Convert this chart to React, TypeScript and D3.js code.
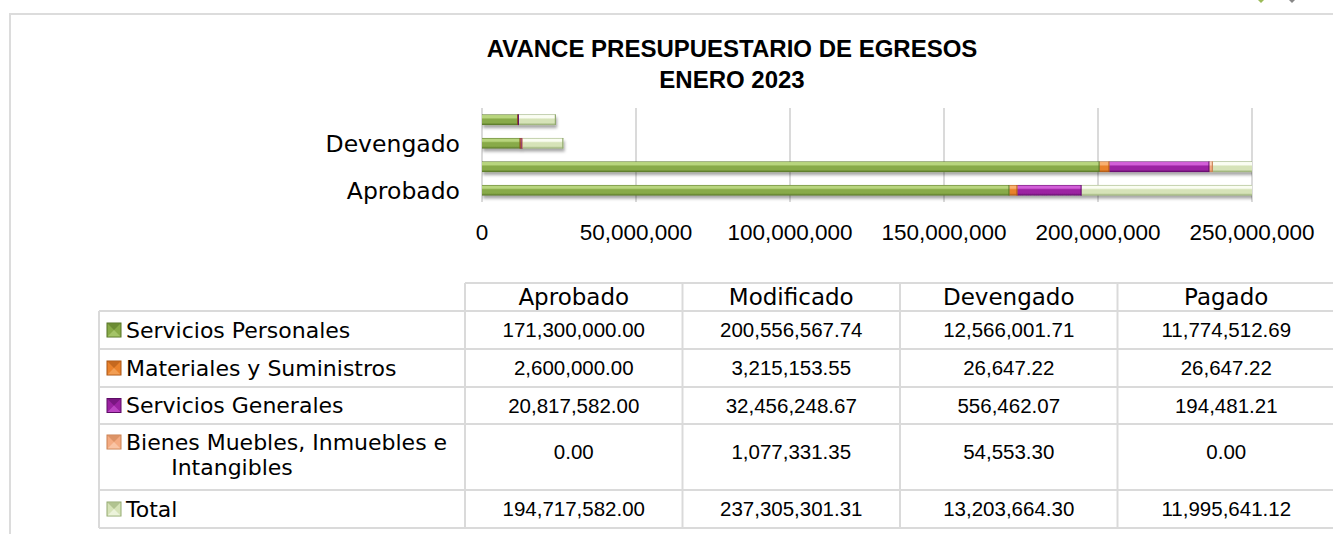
import React from "react";
import * as d3 from "d3";

const categories = ["Aprobado", "Modificado", "Devengado", "Pagado"];
const seriesNames = [
  "Servicios Personales",
  "Materiales y Suministros",
  "Servicios Generales",
  "Bienes Muebles, Inmuebles e Intangibles",
  "Total",
];
const serviciosPersonales = [171300000.0, 200556567.74, 12566001.71, 11774512.69];
const materialesSuministros = [2600000.0, 3215153.55, 26647.22, 26647.22];
const serviciosGenerales = [20817582.0, 32456248.67, 556462.07, 194481.21];
const bienesMuebles = [0.0, 1077331.35, 54553.3, 0.0];
const totalValues = [194717582.0, 237305301.31, 13203664.3, 11995641.12];
const xTickValues = [0, 50000000, 100000000, 150000000, 200000000, 250000000];
const shownAxisLabels = ["Aprobado", "Devengado"];
const titleLines = ["AVANCE PRESUPUESTARIO DE EGRESOS", "ENERO 2023"];

const seriesValues = [
  serviciosPersonales,
  materialesSuministros,
  serviciosGenerales,
  bienesMuebles,
  totalValues,
];

const palette = [
  { base: "#88aa48", light: "#b8d57e", dark: "#557325" },
  { base: "#e9822c", light: "#f9b070", dark: "#a85414" },
  { base: "#9c22a2", light: "#d25ed8", dark: "#5e0c66" },
  { base: "#f4ab82", light: "#fcd5bb", dark: "#c98050" },
  { base: "#d6e3b8", light: "#fafdf2", dark: "#93aa70" },
];

const W = 1333;
const H = 534;
const WORD_FONT = "'DejaVu Sans', sans-serif";
const NUM_FONT = "'Liberation Sans', Arial, sans-serif";

export default function App() {
  const rows = categories.map((c, i) => {
    const r: Record<string, any> = { category: c };
    seriesNames.forEach((s, k) => (r[s] = seriesValues[k][i]));
    return r;
  });
  const stacked = d3.stack<any>().keys(seriesNames)(rows);

  const x = d3.scaleLinear().domain([0, 250000000]).range([482, 1252]);
  const y = d3
    .scaleBand<string>()
    .domain([...categories].reverse())
    .range([108, 202])
    .paddingInner(0.55)
    .paddingOuter(0.275);
  const fmtTick = d3.format(",");
  const fmtVal = d3.format(",.2f");

  // table geometry
  const colX = [465, 682.5, 900, 1117.5, 1335];
  const labelLeft = 99;
  const rowY = [283, 311, 349, 387, 424, 490, 528];
  const gridColor = "#dadada";

  return (
    <svg
      width={W}
      height={H}
      style={{ position: "absolute", left: 0, top: 0, background: "#fff" }}
    >
      <defs>
        {palette.map((p, i) => (
          <linearGradient key={i} id={`g${i}`} x1="0" y1="0" x2="0" y2="1">
            <stop offset="0" stopColor={p.dark} />
            <stop offset="0.1" stopColor={p.light} />
            <stop offset="0.3" stopColor={p.light} />
            <stop offset="0.45" stopColor={p.base} />
            <stop offset="0.78" stopColor={p.base} />
            <stop offset="1" stopColor={p.dark} />
          </linearGradient>
        ))}
        <clipPath id="plotClip">
          <rect x={482} y={100} width={770} height={110} />
        </clipPath>
        <filter id="shadow" x="-5%" y="-50%" width="110%" height="250%">
          <feDropShadow dx="1" dy="3" stdDeviation="1.4" floodColor="#000" floodOpacity="0.35" />
        </filter>
      </defs>

      {/* outer frame */}
      <path d={`M10,${H} L10,14 L${W},14`} fill="none" stroke="#dcdcdc" strokeWidth={2} />
      <path d="M1258,0 l3,3 l3,-3 Z" fill="#9bbb59" />
      <path d="M1289,0 l3,3 l3,-3 Z" fill="#888" />

      {/* title */}
      {titleLines.map((t, i) => (
        <text
          key={t}
          x={732}
          y={57 + i * 31}
          textAnchor="middle"
          fontFamily={NUM_FONT}
          fontWeight="bold"
          fontSize={24}
          fill="#000"
        >
          {t}
        </text>
      ))}

      {/* gridlines */}
      {xTickValues.map((v) => (
        <line
          key={v}
          x1={x(v)}
          x2={x(v)}
          y1={108}
          y2={202}
          stroke={gridColor}
          strokeWidth={2}
        />
      ))}

      {/* bars */}
      <g clipPath="url(#plotClip)">
        {categories.map((c, ci) => (
          <g key={c} filter="url(#shadow)">
            {stacked.map((layer, k) => {
              const d = layer[ci];
              const x0 = x(d[0]);
              const x1 = x(d[1]);
              const w = x1 - x0;
              if (w <= 0.05) return null;
              const by = y(c)!;
              const bh = y.bandwidth();
              return (
                <g key={k}>
                  <rect x={x0} y={by} width={w} height={bh} fill={`url(#g${k})`} />
                  <line
                    x1={x1 - 0.5}
                    x2={x1 - 0.5}
                    y1={by}
                    y2={by + bh}
                    stroke={palette[k].dark}
                    strokeWidth={1.2}
                  />
                </g>
              );
            })}
          </g>
        ))}
      </g>

      {/* y axis labels */}
      {categories
        .filter((c) => shownAxisLabels.includes(c))
        .map((c) => (
          <text
            key={c}
            x={460}
            y={y(c)! + y.bandwidth() / 2}
            dy="0.36em"
            textAnchor="end"
            fontFamily={WORD_FONT}
            fontSize={23.5}
            fill="#000"
          >
            {c}
          </text>
        ))}

      {/* x tick labels */}
      {xTickValues.map((v) => (
        <text
          key={v}
          x={x(v)}
          y={240}
          textAnchor="middle"
          fontFamily={NUM_FONT}
          fontSize={22.5}
          fill="#000"
        >
          {fmtTick(v)}
        </text>
      ))}

      {/* data table */}
      <g>
        <line x1={colX[0]} x2={colX[4]} y1={rowY[0]} y2={rowY[0]} stroke={gridColor} strokeWidth={2} />
        {rowY.slice(1).map((ry) => (
          <line key={ry} x1={labelLeft} x2={colX[4]} y1={ry} y2={ry} stroke={gridColor} strokeWidth={2} />
        ))}
        <line x1={labelLeft} x2={labelLeft} y1={rowY[1]} y2={rowY[6]} stroke={gridColor} strokeWidth={2} />
        {colX.map((cx) => (
          <line key={cx} x1={cx} x2={cx} y1={rowY[0]} y2={rowY[6]} stroke={gridColor} strokeWidth={2} />
        ))}

        {categories.map((c, i) => (
          <text
            key={c}
            x={(colX[i] + colX[i + 1]) / 2}
            y={(rowY[0] + rowY[1]) / 2}
            dy="0.36em"
            textAnchor="middle"
            fontFamily={WORD_FONT}
            fontSize={23}
            fill="#000"
          >
            {c}
          </text>
        ))}

        {seriesNames.map((s, k) => {
          const top = rowY[k + 1];
          const bottom = rowY[k + 2];
          const cy = (top + bottom) / 2;
          const p = palette[k];
          const twoLine = k === 3;
          const markerCy = twoLine ? cy - 15 : cy;
          return (
            <g key={s}>
              <rect
                x={107}
                y={markerCy - 7}
                width={14}
                height={14}
                fill={p.base}
                stroke={p.dark}
                strokeWidth={1}
              />
              <path
                d={`M107.5,${markerCy - 6.5} L120.5,${markerCy - 6.5} L114,${markerCy} Z`}
                fill={p.dark}
                opacity={0.55}
              />
              <path
                d={`M107.5,${markerCy + 6.5} L120.5,${markerCy + 6.5} L114,${markerCy} Z`}
                fill={p.light}
                opacity={0.6}
              />
              {twoLine ? (
                <>
                  <text
                    x={126}
                    y={markerCy}
                    dy="0.36em"
                    fontFamily={WORD_FONT}
                    fontSize={22}
                    fill="#000"
                  >
                    Bienes Muebles, Inmuebles e
                  </text>
                  <text
                    x={232}
                    y={markerCy + 25}
                    dy="0.36em"
                    textAnchor="middle"
                    fontFamily={WORD_FONT}
                    fontSize={22}
                    fill="#000"
                  >
                    Intangibles
                  </text>
                </>
              ) : (
                <text
                  x={126}
                  y={cy}
                  dy="0.36em"
                  fontFamily={WORD_FONT}
                  fontSize={22}
                  fill="#000"
                >
                  {s}
                </text>
              )}
              {categories.map((c, i) => (
                <text
                  key={c}
                  x={(colX[i] + colX[i + 1]) / 2}
                  y={twoLine ? cy - 5 : cy}
                  dy="0.36em"
                  textAnchor="middle"
                  fontFamily={NUM_FONT}
                  fontSize={20.5}
                  fill="#000"
                >
                  {fmtVal(seriesValues[k][i])}
                </text>
              ))}
            </g>
          );
        })}
      </g>
    </svg>
  );
}
